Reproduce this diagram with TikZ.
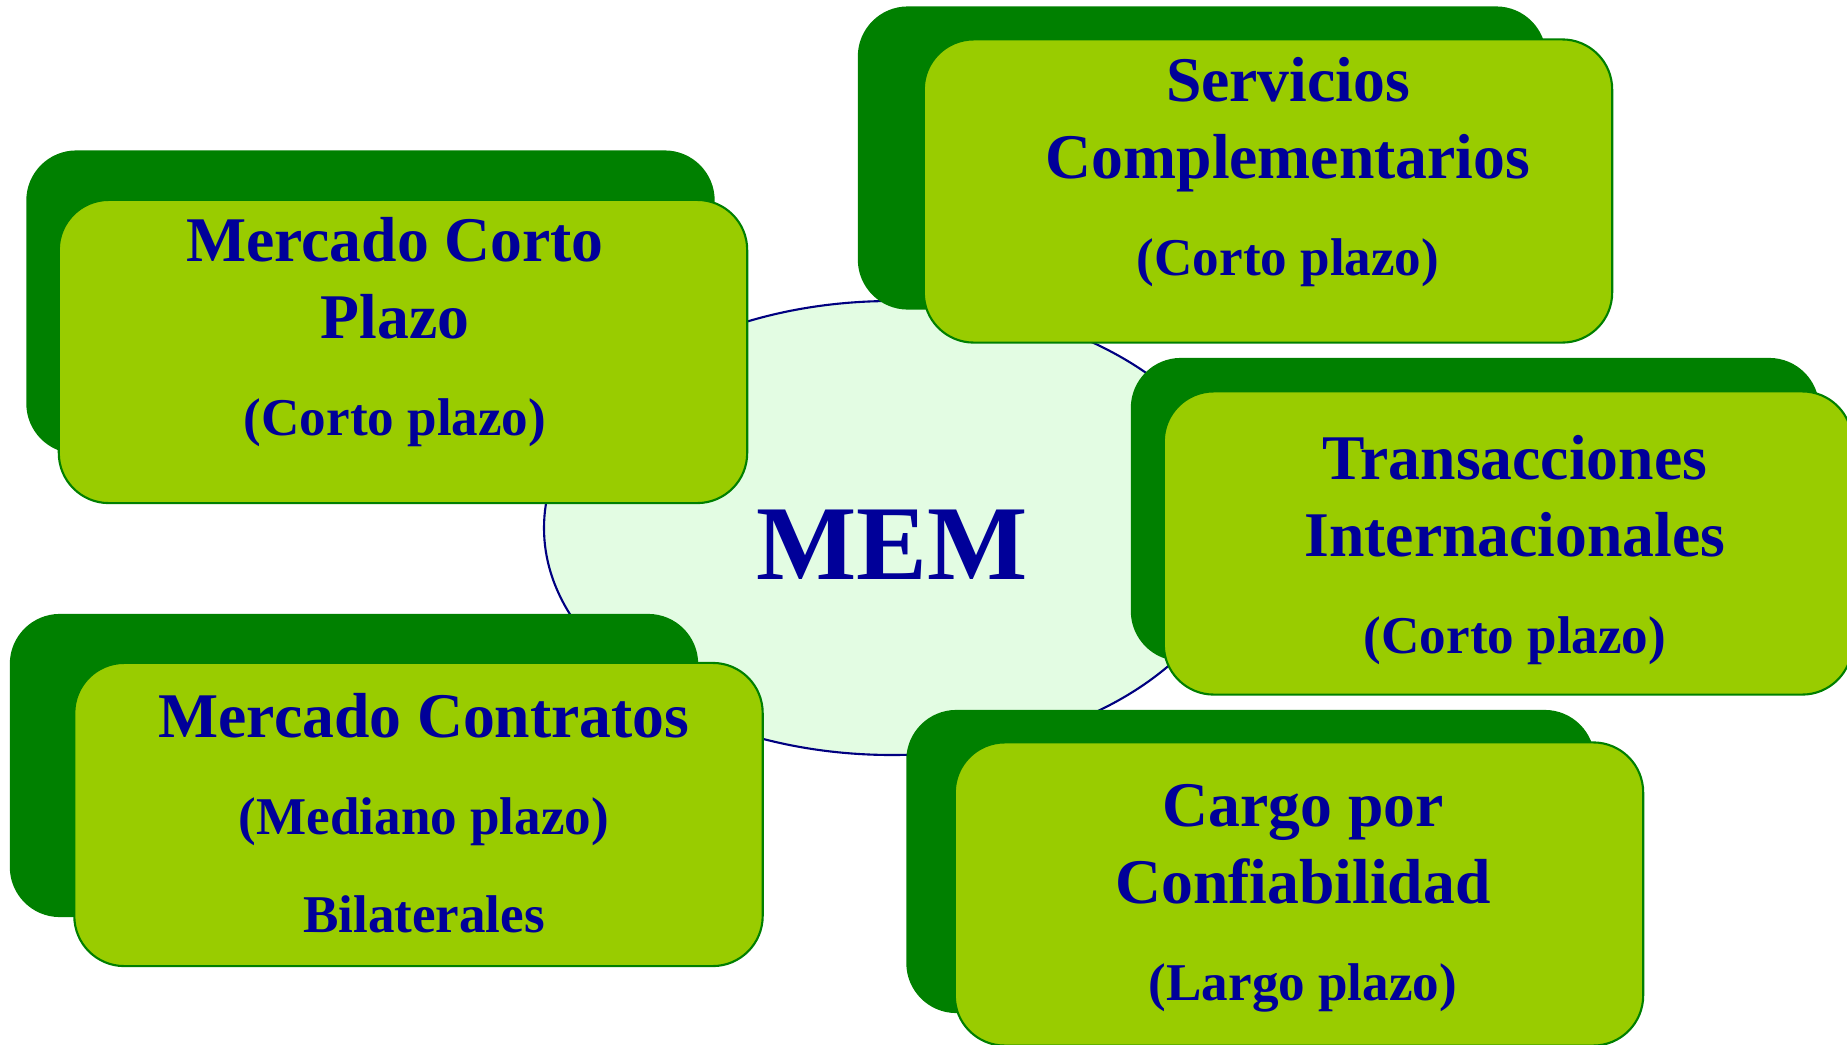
\documentclass[tikz,border=0pt]{standalone}
\usepackage{fontspec}
\setmainfont{Liberation Serif}
\usepackage{xcolor}
\usepackage{tikz}

\definecolor{verdeoscuro}{HTML}{008000}
\definecolor{verdeclaro}{HTML}{99CC00}
\definecolor{tinta}{HTML}{000099}
\definecolor{fondomem}{HTML}{E3FCE3}
\definecolor{bordemem}{HTML}{000080}
\newcommand{\plazo}[1]{{\fontsize{15.1}{18}\selectfont #1}}

\begin{document}
\begin{tikzpicture}[x=0.01cm, y=-0.01cm,
    fondo/.style={fill=verdeoscuro, draw=none, rounded corners=0.5cm,
        minimum width=6.88cm, minimum height=3.03cm},
    caja/.style={fill=verdeclaro, draw=verdeoscuro, line width=0.6pt, rounded corners=0.5cm,
        minimum width=6.88cm, minimum height=3.03cm},
    titulo/.style={anchor=north, align=center, text=tinta, inner sep=0pt,
        font=\bfseries\fontsize{18.1}{21.9}\selectfont}]
            \useasboundingbox (0,0) rectangle (1847,1045);

            % MEM
            \draw[bordemem, fill=fondomem, line width=0.6pt] (892,528) ellipse [x radius=348, y radius=227];
            \node[text=tinta, font=\bfseries\fontsize{30.2}{36}\selectfont, inner sep=0pt] (mem) at (892,545) {MEM};

            % Mercado Corto Plazo
            \node[fondo] (mcpfondo) at (370.5,302) {};
            \node[caja] (mcp) at (403,351.5) {};
            \node[titulo] (mcptxt) at (395,217) {Mercado Corto\\Plazo\\[5.6pt]\plazo{(Corto plazo)}};

            % Servicios Complementarios
            \node[fondo] (scfondo) at (1202,158) {};
            \node[caja] (sc) at (1268,191) {};
            \node[titulo] (sctxt) at (1288,57) {Servicios\\Complementarios\\[5.6pt]\plazo{(Corto plazo)}};

            % Transacciones Internacionales
            \node[fondo] (tiefondo) at (1475,509.5) {};
            \node[caja] (tie) at (1508,543) {};
            \node[titulo] (tietxt) at (1515,435) {Transacciones\\Internacionales\\[5.6pt]\plazo{(Corto plazo)}};

            % Mercado Contratos
            \node[fondo] (mcfondo) at (354,765.5) {};
            \node[caja] (mc) at (418.5,814.5) {};
            \node[titulo] (mctxt) at (424,693) {Mercado Contratos\\[5.6pt]\plazo{(Mediano plazo)}\\[5.9pt]\plazo{Bilaterales}};

            % Cargo por Confiabilidad
            \node[fondo] (cxcfondo) at (1250.5,861.5) {};
            \node[caja] (cxc) at (1299,894) {};
            \node[titulo] (cxctxt) at (1303,784) {Cargo por\\Confiabilidad\\[5.6pt]\plazo{(Largo plazo)}};
        \end{tikzpicture}
\end{document}
